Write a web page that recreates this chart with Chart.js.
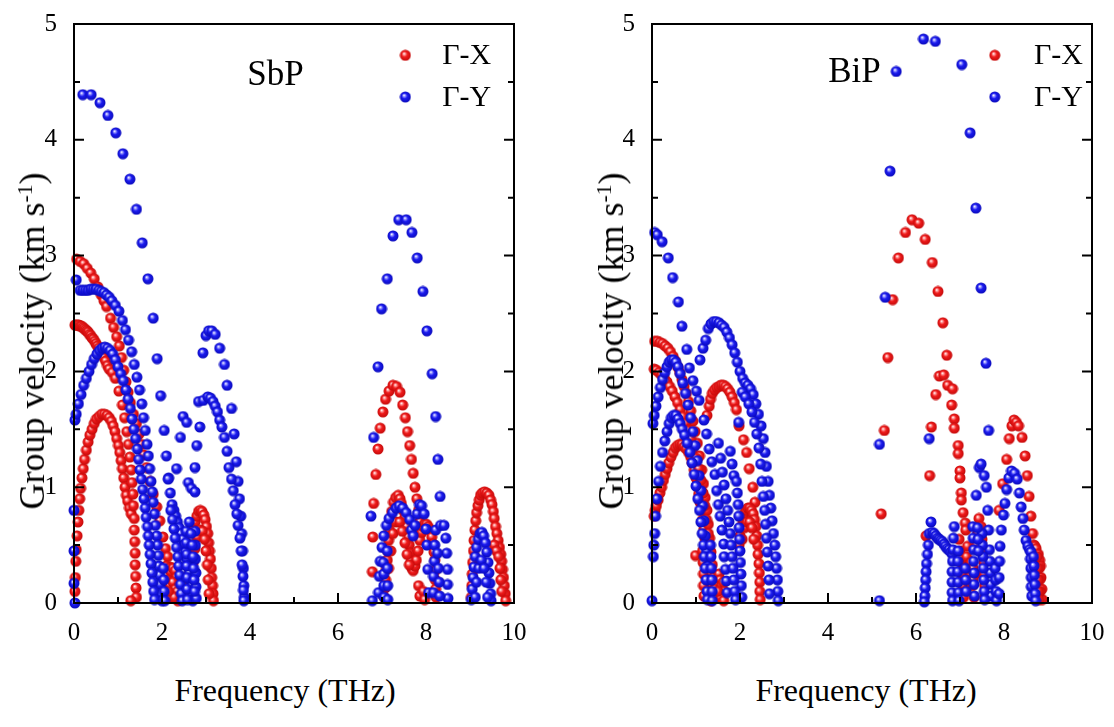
<!DOCTYPE html>
<html>
<head>
<meta charset="utf-8">
<script src="https://cdn.jsdelivr.net/npm/chart.js@4.4.1/dist/chart.umd.min.js"></script>
<style>
  body { margin: 0; background: #fff; width: 1114px; height: 727px; overflow: hidden; position: relative;
         font-family: "Liberation Serif", "Times New Roman", serif; color: #000; }
  canvas { position: absolute; top: 0; }
  .ytitle, .xtitle { position: absolute; white-space: nowrap; font-size: 36px; line-height: 1; }
  .ytitle { transform: translate(-50%, -50%) rotate(-90deg); }
  .xtitle { transform: translate(-50%, -50%); font-size: 32px; }
  sup { font-size: 60%; vertical-align: 0; position: relative; top: -0.55em; }
</style>
</head>
<body>
<canvas id="sbp" width="540" height="650" style="left:0"></canvas>
<canvas id="bip" width="536" height="650" style="left:578px"></canvas>
<div class="ytitle" style="left:32px;top:341px">Group velocity (km s<sup>-1</sup>)</div>
<div class="ytitle" style="left:611px;top:341px">Group velocity (km s<sup>-1</sup>)</div>
<div class="xtitle" style="left:285px;top:690px">Frequency (THz)</div>
<div class="xtitle" style="left:866px;top:690px">Frequency (THz)</div>
<script>
// axis ticks
const xTicks = [0, 2, 4, 6, 8, 10];
const yTicks = [0, 1, 2, 3, 4, 5];

// ---- SbP, Γ-X ----
const sbpGX_acoustic = [[0.02,0.1],[0.03,0.22],[0.04,0.36],[0.05,0.46],[0.07,0.58],[0.09,0.7],[0.11,0.8],[0.13,0.9],[0.15,0.99],[0.18,1.08],[0.21,1.16],[0.24,1.24],[0.28,1.32],[0.32,1.39],[0.36,1.45],[0.41,1.5],[0.46,1.55],[0.51,1.59],[0.57,1.61],[0.63,1.63],[0.69,1.63],[0.75,1.62],[0.8,1.6],[0.85,1.57],[0.89,1.53],[0.93,1.48],[0.97,1.42],[1.01,1.36],[1.04,1.3],[1.07,1.23],[1.1,1.16],[1.13,1.08],[1.16,1.0],[1.19,0.93],[1.22,0.88],[1.26,0.82],[1.3,0.77]];
const sbpGX_column = [[1.37,0.73],[1.37,0.63],[1.38,0.53],[1.39,0.43],[1.39,0.33],[1.4,0.23],[1.41,0.13],[1.42,0.05],[1.29,0.02]];
const sbpGX_top = [[0.06,2.97],[0.14,2.95],[0.22,2.93],[0.3,2.89],[0.38,2.85],[0.46,2.8],[0.54,2.73],[0.62,2.66],[0.68,2.61],[0.74,2.56],[0.83,2.46],[0.9,2.38],[0.97,2.3],[1.03,2.22],[1.08,2.12],[1.13,2.01],[1.18,1.91],[1.23,1.82],[1.28,1.73],[1.35,1.63],[1.42,1.55],[1.48,1.46],[1.53,1.37],[1.58,1.28],[1.65,1.17],[1.73,1.05],[1.8,0.94],[1.88,0.83],[1.95,0.71],[2.02,0.57],[2.08,0.47],[2.13,0.4],[2.18,0.31],[2.26,0.2]];
const sbpGX_mid = [[0.02,2.4],[0.05,2.4],[0.08,2.4],[0.11,2.4],[0.14,2.39],[0.17,2.39],[0.2,2.38],[0.23,2.37],[0.26,2.36],[0.29,2.35],[0.32,2.34],[0.35,2.32],[0.38,2.31],[0.41,2.29],[0.44,2.28],[0.47,2.26],[0.5,2.24],[0.53,2.22],[0.56,2.2],[0.6,2.18],[0.64,2.15],[0.68,2.12],[0.72,2.09],[0.76,2.05],[0.8,2.02],[0.87,1.99],[0.94,1.94],[1.02,1.83],[1.1,1.71],[1.15,1.6],[1.2,1.48],[1.24,1.37],[1.27,1.26],[1.3,1.15],[1.32,1.04],[1.34,0.94],[1.35,0.84]];
const sbpGX_cluster = [[2.1,0.32],[2.15,0.3],[2.2,0.27],[2.25,0.3],[2.3,0.28],[2.33,0.22],[2.12,0.2],[2.18,0.15],[2.25,0.18],[2.3,0.12],[2.35,0.1],[2.36,0.02],[2.2,0.05],[2.28,0.05],[2.14,0.1]];
const sbpGX_arc29 = [[2.58,0.05],[2.6,0.15],[2.62,0.25],[2.64,0.35],[2.66,0.45],[2.69,0.55],[2.72,0.63],[2.75,0.7],[2.79,0.75],[2.83,0.79],[2.87,0.8],[2.91,0.79],[2.95,0.76],[2.98,0.72],[3.01,0.66],[3.04,0.6],[3.06,0.52],[3.08,0.45],[3.1,0.38],[3.12,0.3],[3.13,0.22],[3.15,0.15],[3.16,0.08],[3.17,0.02],
  [2.66,0.1],[2.68,0.22],[2.71,0.35],[2.75,0.47],[2.8,0.57],[2.86,0.63],[2.92,0.62],[2.97,0.55],[3.0,0.45],[3.03,0.33],[3.05,0.2],[3.07,0.08]];
const sbpGX_opt1 = [[6.78,0.27],[6.79,0.57],[6.81,0.86],[6.86,1.11],[6.91,1.33],[6.96,1.51],[7.02,1.65],[7.08,1.76],[7.16,1.83],[7.25,1.88],[7.33,1.87],[7.41,1.82],[7.47,1.71],[7.53,1.6],[7.58,1.48],[7.63,1.36],[7.67,1.24],[7.71,1.12],[7.75,1.0],[7.79,0.9],[7.83,0.8],[7.86,0.7],[7.88,0.6],[7.83,0.15],[7.86,0.06],[7.94,0.1],[7.97,0.03]];
const sbpGX_optM = [[7.05,0.05],[7.07,0.13],[7.08,0.2],[7.1,0.29],[7.12,0.37],[7.13,0.45],[7.15,0.54],[7.17,0.63],[7.19,0.71],[7.22,0.79],[7.26,0.87],[7.31,0.91],[7.37,0.93],[7.41,0.9],[7.44,0.86],[7.48,0.8],[7.52,0.74],[7.56,0.66],[7.6,0.57],[7.62,0.5],[7.64,0.43],[7.66,0.36],[7.68,0.3],[7.71,0.28],[7.75,0.32],[7.78,0.37],[7.82,0.45],[7.86,0.54],[7.9,0.61],[7.93,0.66],[7.97,0.68],[8.01,0.68],[8.05,0.66],[8.09,0.63],[8.13,0.57],[8.16,0.51],[8.18,0.44],[8.2,0.37],[8.21,0.28],[8.21,0.2],[8.22,0.12],[8.23,0.05],
  [7.15,0.3],[7.2,0.45],[7.25,0.6],[7.32,0.7],[7.4,0.7],[7.46,0.62],[7.52,0.52],[7.57,0.42],[7.62,0.33]];
const sbpGX_opt93 = [[9.03,0.05],[9.04,0.15],[9.05,0.25],[9.06,0.35],[9.08,0.45],[9.09,0.54],[9.11,0.63],[9.13,0.71],[9.15,0.78],[9.18,0.84],[9.21,0.89],[9.24,0.93],[9.28,0.95],[9.33,0.96],[9.38,0.95],[9.43,0.93],[9.47,0.89],[9.5,0.85],[9.53,0.79],[9.55,0.73],[9.58,0.66],[9.61,0.6],[9.64,0.54],[9.67,0.48],[9.7,0.42],[9.72,0.36],[9.74,0.29],[9.76,0.22],[9.78,0.15],[9.8,0.08],[9.81,0.02],
  [9.55,0.5],[9.6,0.45],[9.65,0.4],[9.68,0.3],[9.7,0.2],[9.72,0.1]];

// ---- SbP, Γ-Y ----
const sbpGY_top = [[0.2,4.39],[0.39,4.39],[0.59,4.32],[0.77,4.21],[0.95,4.06],[1.11,3.88],[1.27,3.66],[1.42,3.4],[1.55,3.11],[1.68,2.8],[1.8,2.46],[1.89,2.11],[1.97,1.79],[2.05,1.49],[2.1,1.27],[2.15,1.08],[2.19,0.95],[2.23,0.85],[2.27,0.8],[2.31,0.75],[2.35,0.7],[2.39,0.65],[2.43,0.6],[2.47,0.55],[2.5,0.5],[2.53,0.44],[2.56,0.38],[2.59,0.32],[2.62,0.26],[2.64,0.2],[2.66,0.14],[2.68,0.08],[2.7,0.02]];
const sbpGY_flat = [[0.05,2.79],[0.14,2.7],[0.2,2.7],[0.26,2.7],[0.32,2.7],[0.38,2.71],[0.44,2.71],[0.5,2.71],[0.56,2.7],[0.62,2.69],[0.68,2.68],[0.74,2.66],[0.8,2.64],[0.86,2.61],[0.94,2.57],[1.02,2.52],[1.1,2.44],[1.17,2.36],[1.24,2.27],[1.31,2.17],[1.37,2.06],[1.43,1.95],[1.49,1.84],[1.54,1.72],[1.58,1.6],[1.62,1.49],[1.66,1.37],[1.69,1.27],[1.72,1.16],[1.75,1.05],[1.78,0.96],[1.8,0.87],[1.83,0.77],[1.85,0.67],[1.88,0.58],[1.9,0.5],[1.92,0.41],[1.93,0.32],[1.95,0.24],[1.96,0.16],[1.98,0.08],[2.0,0.02]];
const sbpGY_arc22 = [[0.02,1.58],[0.05,1.63],[0.1,1.72],[0.16,1.8],[0.22,1.88],[0.28,1.94],[0.34,2.0],[0.4,2.06],[0.46,2.11],[0.52,2.15],[0.58,2.18],[0.64,2.2],[0.7,2.21],[0.76,2.2],[0.82,2.18],[0.88,2.15],[0.94,2.1],[1.0,2.04],[1.06,1.98],[1.12,1.92],[1.18,1.84],[1.23,1.76],[1.28,1.68],[1.32,1.59],[1.36,1.5],[1.4,1.42],[1.44,1.33],[1.47,1.24],[1.5,1.15],[1.53,1.07],[1.56,0.98],[1.59,0.9],[1.62,0.82],[1.64,0.74],[1.67,0.66],[1.69,0.58],[1.71,0.5],[1.73,0.42],[1.75,0.34],[1.77,0.26],[1.79,0.18],[1.81,0.1],[1.83,0.03]];
const sbpGY_edge = [[0.0,0.8],[0.0,0.45],[0.0,0.17],[0.02,0.0]];
const sbpGY_mid = [[2.33,1.16],[2.42,1.43],[2.48,1.61],[2.56,1.56],[2.6,1.04],[2.67,0.99],[2.75,0.96],[2.75,1.17],[2.79,1.36],[2.86,1.52],[2.83,1.74],[2.94,1.75],[2.14,1.07]];
const sbpGY_arc235 = [[2.93,2.16],[3.0,2.31],[3.06,2.35],[3.13,2.35],[3.21,2.32],[3.31,2.2],[3.42,2.06],[3.48,1.88],[3.58,1.68],[3.64,1.46],[3.69,1.22],[3.73,1.05],[3.76,0.9],[3.79,0.75],[3.81,0.6],[3.83,0.45],[3.85,0.3],[3.86,0.15],[3.87,0.05]];
const sbpGY_arc178 = [[3.04,1.78],[3.1,1.77],[3.16,1.74],[3.21,1.7],[3.26,1.65],[3.31,1.58],[3.36,1.52],[3.42,1.43],[3.48,1.31],[3.52,1.17],[3.58,1.07],[3.62,0.97],[3.66,0.85],[3.7,0.77],[3.73,0.67],[3.77,0.56],[3.8,0.45],[3.82,0.33],[3.84,0.23],[3.85,0.11],[3.86,0.02]];
const sbpGY_low = [[2.2,0.8],[2.24,0.72],[2.27,0.64],[2.3,0.56],[2.33,0.48],[2.36,0.4],[2.38,0.32],[2.4,0.24],[2.42,0.16],[2.44,0.08],[2.46,0.02],
  [2.55,0.62],[2.55,0.52],[2.56,0.42],[2.56,0.32],[2.57,0.22],[2.57,0.12],[2.58,0.03],[2.75,0.62],[2.76,0.5],[2.76,0.38],[2.77,0.26],[2.77,0.14],[2.78,0.04],
  [2.03,0.3],[2.04,0.2],[2.05,0.1],[2.06,0.02],[2.62,0.7],[2.66,0.6],[2.69,0.5],[2.71,0.4],[2.72,0.3],[2.73,0.2],[2.74,0.1]];
const sbpGY_optHigh = [[6.78,0.02],[6.75,0.75],[6.81,1.43],[6.91,2.04],[6.99,2.54],[7.12,2.8],[7.25,3.17],[7.38,3.31],[7.55,3.31],[7.68,3.2],[7.8,2.98],[7.93,2.69],[8.02,2.35],[8.14,1.98],[8.22,1.61],[8.27,1.24],[8.32,0.92]];
const sbpGY_optLow = [[6.92,0.09],[6.94,0.23],[6.96,0.36],[7.0,0.48],[7.04,0.58],[7.1,0.67],[7.16,0.73],[7.24,0.78],[7.32,0.82],[7.39,0.84],[7.47,0.82],[7.55,0.78],[7.63,0.72],[7.67,0.63],[7.71,0.58],[7.75,0.67],[7.8,0.77],[7.85,0.85],[7.9,0.84],[7.96,0.77],[8.0,0.64],[8.02,0.5],[8.04,0.29],[8.06,0.09],
  [7.03,0.35],[7.04,0.25],[7.04,0.15],[7.05,0.05],[7.12,0.45],[7.12,0.3],[7.13,0.15],[7.13,0.03]];
const sbpGY_opt84 = [[8.22,0.63],[8.33,0.67],[8.41,0.67],[8.45,0.56],[8.47,0.43],[8.49,0.29],[8.49,0.16],[8.5,0.04],[8.2,0.5],[8.19,0.36],[8.17,0.23],[8.17,0.09],[8.26,0.43],[8.28,0.3],[8.3,0.18],[8.31,0.06]];
const sbpGY_opt925 = [[9.03,0.03],[9.05,0.12],[9.07,0.22],[9.09,0.31],[9.12,0.4],[9.15,0.48],[9.19,0.55],[9.23,0.6],[9.27,0.61],[9.31,0.58],[9.35,0.52],[9.38,0.44],[9.41,0.35],[9.43,0.26],[9.45,0.17],[9.47,0.08],[9.48,0.02],
  [9.12,0.05],[9.15,0.18],[9.2,0.3],[9.26,0.37],[9.32,0.3],[9.37,0.18],[9.4,0.05]];

// ---- BiP, Γ-X ----
const bipGX_acoustic = [[0.05,0.75],[0.07,0.8],[0.1,0.84],[0.14,0.89],[0.18,0.95],[0.22,1.0],[0.26,1.06],[0.3,1.11],[0.34,1.16],[0.38,1.21],[0.43,1.26],[0.48,1.3],[0.53,1.34],[0.58,1.36],[0.63,1.37],[0.68,1.37],[0.73,1.35],[0.78,1.33],[0.83,1.3],[0.88,1.26],[0.92,1.21],[0.96,1.15],[1.0,1.08],[1.03,1.01],[1.06,0.94],[1.09,0.87],[1.12,0.8],[1.15,0.72],[1.18,0.64],[1.2,0.56],[1.23,0.48],[1.25,0.4],[1.27,0.32],[1.29,0.24],[1.31,0.16],[1.33,0.08],[1.34,0.02],[0.99,0.41]];
const bipGX_top = [[0.06,2.26],[0.12,2.26],[0.18,2.25],[0.24,2.24],[0.3,2.22],[0.36,2.2],[0.42,2.17],[0.48,2.13],[0.53,2.09],[0.58,2.04],[0.63,1.99],[0.68,1.93],[0.73,1.87],[0.78,1.81],[0.83,1.74],[0.88,1.66],[0.93,1.57],[0.98,1.48],[1.03,1.38],[1.08,1.27],[1.13,1.15],[1.17,1.03],[1.21,0.91],[1.25,0.8],[1.28,0.68],[1.31,0.56],[1.34,0.44],[1.37,0.33],[1.4,0.22],[1.43,0.12],[1.45,0.04]];
const bipGX_second = [[0.05,2.02],[0.1,2.01],[0.16,1.99],[0.22,1.97],[0.28,1.94],[0.34,1.91],[0.4,1.87],[0.46,1.83],[0.52,1.78],[0.58,1.73],[0.64,1.67],[0.7,1.61],[0.76,1.55],[0.82,1.49],[0.88,1.42],[0.94,1.34],[1.0,1.25],[1.06,1.16],[1.11,1.06],[1.16,0.95],[1.2,0.84],[1.24,0.72],[1.28,0.6],
  [1.15,0.45],[1.16,0.35],[1.17,0.25],[1.17,0.15],[1.18,0.06],[1.52,0.25],[1.55,0.2],[1.58,0.15],[1.6,0.1],[1.62,0.18],[1.64,0.1],[1.56,0.05],[1.63,0.02],[1.5,0.1]];
const bipGX_arc18 = [[1.25,1.62],[1.3,1.7],[1.33,1.76],[1.37,1.81],[1.42,1.84],[1.47,1.86],[1.52,1.87],[1.57,1.88],[1.62,1.88],[1.67,1.87],[1.72,1.85],[1.77,1.82],[1.82,1.78],[1.87,1.73],[1.92,1.67],[1.98,1.53],[2.08,1.41],[2.15,1.3],[2.21,1.16],[2.29,1.0],[2.34,0.87]];
const bipGX_arc08 = [[1.98,0.5],[2.0,0.58],[2.03,0.66],[2.06,0.72],[2.1,0.77],[2.14,0.8],[2.18,0.82],[2.22,0.82],[2.26,0.8],[2.3,0.77],[2.33,0.72],[2.36,0.66],[2.38,0.58],[2.4,0.5],[2.41,0.42],[2.43,0.34],[2.44,0.26],[2.45,0.18],[2.45,0.1],[2.46,0.03],
  [2.05,0.55],[2.1,0.65],[2.16,0.7],[2.22,0.7],[2.27,0.65],[2.31,0.55]];
const bipGX_opt = [[5.21,0.77],[5.28,1.49],[5.36,2.12],[5.47,2.62],[5.6,2.98],[5.76,3.2],[5.91,3.31],[6.06,3.28],[6.21,3.14],[6.37,2.94],[6.5,2.69],[6.61,2.42],[6.7,2.14],[6.53,1.96],[6.63,1.97],[6.72,1.88],[6.83,1.85],[6.81,1.71],[6.87,1.59],[6.87,1.51],[6.45,1.8],[6.35,1.52],[6.31,1.1],[6.23,0.58],[6.96,1.36],[6.96,1.29],[7.0,1.14],[7.0,1.08],[7.03,0.95],[7.03,0.89],[7.07,0.78],[7.12,0.69],[7.89,0.8]];
const bipGX_optLow = [[6.98,0.55],[7.0,0.45],[7.02,0.35],[7.04,0.25],[7.06,0.15],[7.08,0.05],[7.13,0.63],[7.17,0.49],[7.2,0.36],[7.24,0.25],[7.28,0.15],[7.32,0.05],[7.15,0.4],[7.2,0.3],[7.25,0.35],[7.3,0.3],[7.35,0.25],[7.3,0.2],
  [7.43,0.73],[7.48,0.66],[7.5,0.55],[7.52,0.45],[7.54,0.35],[7.55,0.25],[7.56,0.15],[7.57,0.05],[7.4,0.6],[7.38,0.5]];
const bipGX_opt155 = [[7.97,1.03],[8.06,1.24],[8.12,1.42],[8.18,1.53],[8.23,1.58],[8.28,1.56],[8.33,1.53],[8.41,1.43],[8.48,1.27],[8.53,1.1],[8.57,0.92],[8.61,0.75],[8.65,0.6],[8.68,0.5],
  [8.7,0.49],[8.73,0.47],[8.78,0.42],[8.81,0.37],[8.83,0.32],[8.84,0.22],[8.86,0.12],[8.87,0.03],[8.8,0.3],[8.81,0.2],[8.82,0.1],[8.75,0.4],[8.76,0.3],[8.77,0.2],[8.78,0.1],[8.79,0.03]];

// ---- BiP, Γ-Y ----
const bipGY_top = [[0.06,3.2],[0.12,3.18],[0.23,3.12],[0.37,2.98],[0.47,2.81],[0.6,2.6],[0.68,2.39],[0.79,2.19],[0.85,2.03],[0.93,1.92],[1.01,1.83],[1.07,1.75],[1.18,1.58],[1.24,1.46],[1.3,1.33],[1.36,1.22],[1.43,1.11],[1.47,0.97],[1.51,0.85],[1.55,0.75],[1.59,0.63],[1.63,0.51],[1.64,0.4],[1.67,0.29],[1.69,0.19],[1.71,0.09]];
const bipGY_arc21 = [[0.02,1.55],[0.05,1.62],[0.09,1.7],[0.14,1.78],[0.19,1.86],[0.24,1.93],[0.29,1.99],[0.34,2.04],[0.39,2.08],[0.44,2.1],[0.49,2.1],[0.54,2.08],[0.59,2.04],[0.64,1.98],[0.7,1.9],[0.76,1.81],[0.82,1.71],[0.88,1.6],[0.93,1.48],[0.98,1.36],[1.03,1.23],[1.07,1.1],[1.11,0.97],[1.15,0.84],[1.18,0.71],[1.21,0.58],[1.24,0.45],[1.26,0.32],[1.28,0.2],[1.3,0.08]];
const bipGY_arc16 = [[0.0,0.02],[0.03,0.4],[0.04,0.5],[0.06,0.6],[0.08,0.75],[0.11,0.9],[0.15,1.05],[0.19,1.18],[0.24,1.3],[0.29,1.4],[0.34,1.48],[0.39,1.55],[0.44,1.6],[0.49,1.62],[0.54,1.62],[0.59,1.59],[0.64,1.55],[0.69,1.5],[0.74,1.45],[0.8,1.38],[0.86,1.3],[0.91,1.21],[0.96,1.11],[1.0,1.01],[1.04,0.9],[1.08,0.8],[1.11,0.7],[1.14,0.6],[1.17,0.5],[1.19,0.4],[1.21,0.3],[1.23,0.2],[1.25,0.1],[1.26,0.03],
  [1.33,0.5],[1.34,0.4],[1.35,0.3],[1.36,0.2],[1.37,0.1],[1.37,0.02]];
const bipGY_mid = [[1.78,1.31],[1.82,1.2],[1.86,1.1],[1.92,1.05],[1.94,0.95],[1.96,0.85],[1.97,0.75],[1.98,0.65],[1.99,0.55],[2.0,0.45],[2.01,0.35],[2.02,0.25],[2.03,0.15],[2.04,0.05],
  [1.51,1.38],[1.56,1.25],[1.6,1.13],[1.64,1.02],[1.68,0.9],[1.72,0.8],[1.75,0.7],[1.78,0.6],[1.8,0.5],[1.82,0.4],[1.84,0.3],[1.86,0.2],[1.88,0.1],[1.9,0.03],[1.97,1.56]];
const bipGY_arc24 = [[1.09,2.1],[1.16,2.2],[1.22,2.27],[1.28,2.37],[1.34,2.41],[1.4,2.43],[1.46,2.43],[1.52,2.42],[1.58,2.4],[1.64,2.38],[1.7,2.34],[1.76,2.29],[1.82,2.23],[1.88,2.16],[1.94,2.08],[2.0,2.0],[2.06,1.94],[2.12,1.9],[2.18,1.88],[2.24,1.85],[2.3,1.8],[2.36,1.72],[2.42,1.63],[2.48,1.53],[2.53,1.42],[2.57,1.3],[2.6,1.18],[2.64,1.05],[2.67,0.93],[2.7,0.82],[2.73,0.71],[2.76,0.6],[2.79,0.5],[2.81,0.4],[2.83,0.3],[2.85,0.2],[2.86,0.1],[2.87,0.02]];
const bipGY_inner = [[2.05,1.82],[2.12,1.78],[2.2,1.72],[2.27,1.65],[2.33,1.56],[2.38,1.46],[2.43,1.34],[2.47,1.2],[2.5,1.05],[2.53,0.92],[2.56,0.8],[2.58,0.68],[2.6,0.56],[2.62,0.44],[2.64,0.32],[2.66,0.2],[2.67,0.08]];
const bipGY_opt = [[5.17,0.02],[5.17,1.37],[5.3,2.64],[5.41,3.73],[5.55,4.59],[6.17,4.87],[6.44,4.85],[7.04,4.65],[7.23,4.06],[7.36,3.41],[7.48,2.72],[7.59,2.07],[7.65,1.49],[6.3,1.42]];
const bipGY_optLow = [[6.34,0.7],[6.3,0.6],[6.28,0.5],[6.26,0.42],[6.24,0.34],[6.23,0.27],[6.22,0.2],[6.21,0.13],[6.2,0.06],[6.19,0.01],
  [6.37,0.61],[6.41,0.6],[6.45,0.58],[6.49,0.56],[6.52,0.55],[6.56,0.54],[6.6,0.53],[6.64,0.51],[6.67,0.49],[6.71,0.47],[6.75,0.46],[6.79,0.44],[6.83,0.42],
  [6.87,0.66],[6.85,0.56],[6.84,0.46],[6.83,0.36],[6.82,0.27],[6.82,0.18],[6.82,0.09],[6.83,0.02],
  [6.96,0.45],[6.95,0.36],[6.95,0.27],[6.96,0.18],[6.97,0.09],[6.98,0.02],
  [7.29,0.66],[7.3,0.56],[7.31,0.46],[7.31,0.36],[7.32,0.26],[7.32,0.16],[7.33,0.06],[7.12,0.3],[7.13,0.2],[7.14,0.1]];
const bipGY_opt76 = [[7.37,0.93],[7.44,1.17],[7.48,1.2],[7.55,1.1],[7.6,1.0],[7.63,0.8],[7.65,0.63],[7.67,0.46],[7.68,0.36],[7.69,0.26],[7.7,0.16],[7.7,0.06],
  [7.5,0.6],[7.51,0.5],[7.52,0.4],[7.53,0.3],[7.54,0.2],[7.55,0.1],[7.56,0.03],[7.4,0.65],[7.41,0.55],[7.42,0.45],[7.8,0.3],[7.81,0.2],[7.82,0.1],[7.83,0.02]];
const bipGY_opt82 = [[7.89,0.08],[7.89,0.22],[7.9,0.36],[7.91,0.49],[7.94,0.63],[7.99,0.76],[8.02,0.86],[8.06,0.98],[8.11,1.08],[8.17,1.14],[8.24,1.12],[8.3,1.07],[8.35,0.95],[8.39,0.83],[8.43,0.73],[8.46,0.63],[8.5,0.54],[8.54,0.49],[8.58,0.46],[8.61,0.44],
  [8.6,0.38],[8.61,0.3],[8.62,0.22],[8.62,0.14],[8.63,0.06],[8.67,0.4],[8.68,0.32],[8.69,0.24],[8.7,0.16],[8.71,0.08],[8.72,0.02]];

const toXY = arr => arr.map(([x, y]) => ({ x, y }));

function sphere(base, light, dark) {
  const c = document.createElement('canvas');
  c.width = c.height = 12;
  const g = c.getContext('2d');
  const grad = g.createRadialGradient(4.6, 4.2, 0.2, 6, 6, 5.8);
  grad.addColorStop(0, '#ffffff');
  grad.addColorStop(0.18, light);
  grad.addColorStop(0.45, base);
  grad.addColorStop(1, dark);
  g.fillStyle = grad;
  g.beginPath();
  g.arc(6, 6, 5.5, 0, Math.PI * 2);
  g.fill();
  return c;
}
const redBall = sphere('#f01c1c', '#ff9a9a', '#c00808');
const blueBall = sphere('#1c1cf0', '#9a9aff', '#0808b8');

const serif = '"Liberation Serif", "Times New Roman", serif';

function panelPlugin(cfg) {
  return {
    id: 'panel_' + cfg.name,
    afterDatasetsDraw(chart) {
      const { ctx, chartArea: a, scales: { x, y } } = chart;
      ctx.save();
      ctx.strokeStyle = '#000';
      ctx.lineWidth = 2;
      ctx.strokeRect(a.left, a.top, a.right - a.left, a.bottom - a.top);
      ctx.lineWidth = 2;
      ctx.beginPath();
      for (let v = 0; v <= 10; v += 1) {
        const px = x.getPixelForValue(v);
        const len = v % 2 === 0 ? 10 : 6;
        ctx.moveTo(px, a.bottom);
        ctx.lineTo(px, a.bottom - len);
      }
      for (let v = 0; v <= 5; v += 0.5) {
        const py = y.getPixelForValue(v);
        const len = v % 1 === 0 ? 10 : 6;
        ctx.moveTo(a.left, py);
        ctx.lineTo(a.left + len, py);
        ctx.moveTo(a.right, py);
        ctx.lineTo(a.right - len, py);
      }
      ctx.stroke();

      ctx.fillStyle = '#000';
      ctx.textBaseline = 'middle';
      ctx.font = '35px ' + serif;
      ctx.textAlign = 'center';
      ctx.fillText(cfg.name, x.getPixelForValue(cfg.nameX), y.getPixelForValue(cfg.nameY));

      ctx.font = '30px ' + serif;
      ctx.textAlign = 'left';
      const dx = x.getPixelForValue(cfg.legendX);
      const tx = x.getPixelForValue(cfg.legendTextX);
      [[redBall, 'Γ-X', 4.73], [blueBall, 'Γ-Y', 4.37]].forEach(([img, txt, v]) => {
        const py = y.getPixelForValue(v);
        ctx.drawImage(img, dx - 6, py - 6);
        ctx.fillText(txt, tx, py + 1);
      });
      ctx.restore();
    }
  };
}

function makePanel(id, gx, gy, cfg, rightPad) {
  new Chart(document.getElementById(id), {
    type: 'scatter',
    data: {
      datasets: [
        { label: 'Γ-Y', data: toXY(gy), pointStyle: blueBall, pointRadius: 6, pointHoverRadius: 6, order: 0, clip: false },
        { label: 'Γ-X', data: toXY(gx), pointStyle: redBall, pointRadius: 6, pointHoverRadius: 6, order: 1, clip: false }
      ]
    },
    options: {
      responsive: false,
      animation: false,
      devicePixelRatio: 1,
      layout: { padding: { left: 0, top: 20, right: rightPad, bottom: 7 } },
      plugins: { legend: { display: false }, tooltip: { enabled: false } },
      scales: {
        x: {
          type: 'linear', min: 0, max: 10,
          afterBuildTicks: s => { s.ticks = xTicks.map(v => ({ value: v })); },
          afterFit: s => { s.height = 40; },
          grid: { display: false }, border: { display: false },
          ticks: { color: '#000', font: { family: serif, size: 25 }, padding: 7, maxRotation: 0 }
        },
        y: {
          min: 0, max: 5,
          afterBuildTicks: s => { s.ticks = yTicks.map(v => ({ value: v })); },
          afterFit: s => { s.width = 74; },
          grid: { display: false }, border: { display: false },
          ticks: { color: '#000', font: { family: serif, size: 25 }, padding: 9 }
        }
      }
    },
    plugins: [panelPlugin(cfg)]
  });
}

makePanel('sbp',
  [].concat(sbpGX_acoustic, sbpGX_column, sbpGX_top, sbpGX_mid, sbpGX_cluster, sbpGX_arc29, sbpGX_opt1, sbpGX_optM, sbpGX_opt93),
  [].concat(sbpGY_top, sbpGY_flat, sbpGY_arc22, sbpGY_edge, sbpGY_mid, sbpGY_arc235, sbpGY_arc178, sbpGY_low, sbpGY_optHigh, sbpGY_optLow, sbpGY_opt84, sbpGY_opt925),
  { name: 'SbP', nameX: 4.58, nameY: 4.55, legendX: 7.53, legendTextX: 8.37 }, 26);

makePanel('bip',
  [].concat(bipGX_acoustic, bipGX_top, bipGX_second, bipGX_arc18, bipGX_arc08, bipGX_opt, bipGX_optLow, bipGX_opt155),
  [].concat(bipGY_top, bipGY_arc21, bipGY_arc16, bipGY_mid, bipGY_arc24, bipGY_inner, bipGY_opt, bipGY_optLow, bipGY_opt76, bipGY_opt82),
  { name: 'BiP', nameX: 4.6, nameY: 4.58, legendX: 7.79, legendTextX: 8.68 }, 22);
</script>
</body>
</html>
